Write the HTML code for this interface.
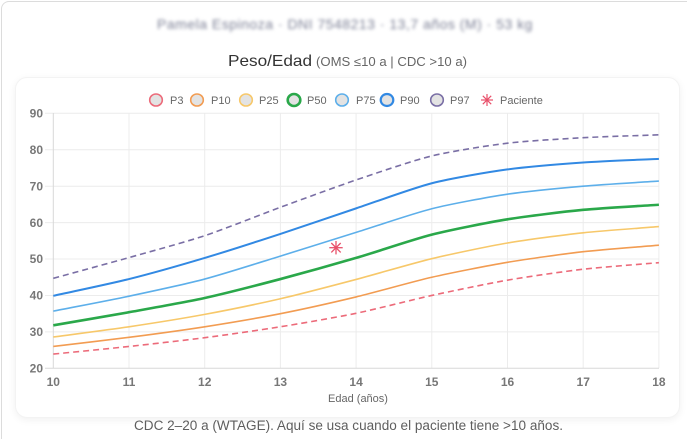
<!DOCTYPE html>
<html><head><meta charset="utf-8">
<style>
html,body{margin:0;padding:0;background:#fff;overflow:hidden;width:687px;height:439px;}
body{font-family:"Liberation Sans",Arial,sans-serif;}
#root{position:relative;width:687px;height:439px;overflow:hidden;background:#fff;}
.outer{position:absolute;left:1px;top:1px;width:686px;height:438px;border-top:1px solid #dcdcdc;border-left:1px solid #dcdcdc;border-top-left-radius:8px;box-sizing:border-box;}
.inner{position:absolute;left:15px;top:77px;width:665px;height:341px;border-radius:12px;border:1px solid #f3f3f3;box-shadow:0 2px 8px rgba(0,0,0,0.06);background:#fff;box-sizing:border-box;}
.hdr{position:absolute;left:150px;top:16px;width:390px;font-size:14px;color:#7d8196;filter:blur(1.6px);white-space:nowrap;text-align:center;letter-spacing:0.5px;}
svg{position:absolute;left:0;top:0;}
</style></head>
<body>
<div id="root">
<div class="outer"></div>
<div class="hdr">Pamela Espinoza · DNI 7548213 · 13,7 años (M) · 53 kg</div>
<div class="inner"></div>
<svg width="687" height="439" viewBox="0 0 687 439" xmlns="http://www.w3.org/2000/svg" font-family="Liberation Sans, Arial, sans-serif">
  <!-- Title -->
  <text x="228" y="66" font-size="16" fill="#333" textLength="84" lengthAdjust="spacingAndGlyphs">Peso/Edad</text>
  <text x="316" y="66" font-size="12.5" fill="#666" textLength="151" lengthAdjust="spacingAndGlyphs">(OMS ≤10 a | CDC &gt;10 a)</text>

  <!-- Legend -->
  <g stroke-width="1.6" fill="#e3e3e3">
    <ellipse cx="156" cy="100" rx="6.3" ry="6" stroke="#ec6b7a"/>
    <ellipse cx="197" cy="100" rx="6.3" ry="6" stroke="#f29c52"/>
    <ellipse cx="246" cy="100" rx="6.3" ry="6" stroke="#f7c86a"/>
    <ellipse cx="294" cy="100" rx="6.3" ry="6" stroke="#2aa84a" stroke-width="2.6"/>
    <ellipse cx="342" cy="100" rx="6.3" ry="6" stroke="#5dafea"/>
    <ellipse cx="387" cy="100" rx="6.3" ry="6" stroke="#3289e3" stroke-width="2.2"/>
    <ellipse cx="437" cy="100" rx="6.3" ry="6" stroke="#7a6fa5"/>
  </g>
  <g stroke="#e8506a" stroke-width="1.2">
    <line x1="487" y1="94" x2="487" y2="106"/>
    <line x1="481" y1="100" x2="493" y2="100"/>
    <line x1="482.8" y1="95.8" x2="491.2" y2="104.2"/>
    <line x1="482.8" y1="104.2" x2="491.2" y2="95.8"/>
  </g>
  <g font-size="11" fill="#666">
    <text x="170" y="104">P3</text>
    <text x="211" y="104">P10</text>
    <text x="259" y="104">P25</text>
    <text x="307" y="104">P50</text>
    <text x="356" y="104">P75</text>
    <text x="400" y="104">P90</text>
    <text x="450" y="104">P97</text>
    <text x="500" y="104">Paciente</text>
  </g>

  <!-- Grid -->
  <g stroke="#ececec" stroke-width="1">
    <line x1="45" y1="113.3" x2="659" y2="113.3"/>
    <line x1="45" y1="149.7" x2="659" y2="149.7"/>
    <line x1="45" y1="186.2" x2="659" y2="186.2"/>
    <line x1="45" y1="222.6" x2="659" y2="222.6"/>
    <line x1="45" y1="259.0" x2="659" y2="259.0"/>
    <line x1="45" y1="295.5" x2="659" y2="295.5"/>
    <line x1="45" y1="331.9" x2="659" y2="331.9"/>
    <line x1="129" y1="113" x2="129" y2="368"/>
    <line x1="204.7" y1="113" x2="204.7" y2="368"/>
    <line x1="280.4" y1="113" x2="280.4" y2="368"/>
    <line x1="356.1" y1="113" x2="356.1" y2="368"/>
    <line x1="431.8" y1="113" x2="431.8" y2="368"/>
    <line x1="507.5" y1="113" x2="507.5" y2="368"/>
    <line x1="583.2" y1="113" x2="583.2" y2="368"/>
    <line x1="658.9" y1="113" x2="658.9" y2="368"/>
  </g>
  <g stroke="#d8d8d8" stroke-width="1">
    <line x1="53.3" y1="113" x2="53.3" y2="368.3"/>
    <line x1="45" y1="368.3" x2="659" y2="368.3"/>
  </g>

  <!-- Y ticks -->
  <g font-size="12" fill="#777" font-weight="bold" text-anchor="end">
    <text x="43" y="117.5">90</text>
    <text x="43" y="153.9">80</text>
    <text x="43" y="190.4">70</text>
    <text x="43" y="226.8">60</text>
    <text x="43" y="263.2">50</text>
    <text x="43" y="299.7">40</text>
    <text x="43" y="336.1">30</text>
    <text x="43" y="372.5">20</text>
  </g>
  <!-- X ticks -->
  <g font-size="12" fill="#777" font-weight="bold" text-anchor="middle">
    <text x="53.3" y="386">10</text>
    <text x="129" y="386">11</text>
    <text x="204.7" y="386">12</text>
    <text x="280.4" y="386">13</text>
    <text x="356.1" y="386">14</text>
    <text x="431.8" y="386">15</text>
    <text x="507.5" y="386">16</text>
    <text x="583.2" y="386">17</text>
    <text x="658.9" y="386">18</text>
  </g>
  <text x="358" y="402" font-size="11" fill="#666" text-anchor="middle">Edad (años)</text>

  <!-- Series -->
  <g fill="none" stroke-linejoin="round" stroke-linecap="butt">
    <polyline class="sm" stroke="#ec6b7a" stroke-width="1.6" stroke-dasharray="6,4" points="53.3,354.10 129,346.45 204.7,337.71 280.4,326.78 356.1,313.30 431.8,295.45 507.5,280.15 583.2,269.22 658.9,262.66"/>
    <polyline class="sm" stroke="#f29c52" stroke-width="1.6" points="53.3,346.45 129,337.35 204.7,326.78 280.4,313.66 356.1,296.91 431.8,277.24 507.5,262.30 583.2,251.73 658.9,245.18"/>
    <polyline class="sm" stroke="#f7c86a" stroke-width="1.6" points="53.3,336.98 129,326.78 204.7,314.39 280.4,298.73 356.1,279.42 431.8,258.66 507.5,242.99 583.2,232.79 658.9,226.60"/>
    <polyline class="sm" stroke="#2aa84a" stroke-width="2.6" points="53.3,325.32 129,312.21 204.7,298.00 280.4,279.06 356.1,257.93 431.8,234.62 507.5,219.31 583.2,209.84 658.9,204.74"/>
    <polyline class="sm" stroke="#5dafea" stroke-width="1.6" points="53.3,311.12 129,296.18 204.7,279.06 280.4,256.10 356.1,232.42 431.8,208.74 507.5,194.17 583.2,186.16 658.9,181.06"/>
    <polyline class="sm" stroke="#3289e3" stroke-width="2" points="53.3,295.81 129,279.06 204.7,257.93 280.4,233.89 356.1,208.38 431.8,183.25 507.5,169.41 583.2,162.48 658.9,158.85"/>
    <polyline class="sm" stroke="#7a6fa5" stroke-width="1.6" stroke-dasharray="6,4" points="53.3,278.33 129,257.56 204.7,235.71 280.4,207.29 356.1,179.97 431.8,155.93 507.5,143.17 583.2,137.71 658.9,134.80"/>
  </g>

  <!-- Patient -->
  <g stroke="#e8506a" stroke-width="1.3">
    <line x1="336" y1="241" x2="336" y2="254.4"/>
    <line x1="329.3" y1="247.7" x2="342.7" y2="247.7"/>
    <line x1="331.3" y1="243" x2="340.7" y2="252.4"/>
    <line x1="331.3" y1="252.4" x2="340.7" y2="243"/>
  </g>

  <!-- Caption -->
  <text x="134" y="430" font-size="13.5" fill="#5e5e5e" textLength="429" lengthAdjust="spacingAndGlyphs">CDC 2–20 a (WTAGE). Aquí se usa cuando el paciente tiene &gt;10 años.</text>
</svg>
</div>
<script>
(function(){
  var NS="http://www.w3.org/2000/svg", t=0.25;
  var pls=document.querySelectorAll('polyline.sm');
  for(var k=0;k<pls.length;k++){
    var pl=pls[k];
    var pts=pl.getAttribute('points').trim().split(/\s+/).map(function(p){return p.split(',').map(Number);});
    var n=pts.length, cpP=[], cpN=[];
    for(var i=0;i<n;i++){
      var prev=pts[i-1]||pts[i], cur=pts[i], next=pts[i+1]||pts[i];
      var d01=Math.hypot(cur[0]-prev[0],cur[1]-prev[1]), d12=Math.hypot(next[0]-cur[0],next[1]-cur[1]);
      var s01=d01/(d01+d12), s12=d12/(d01+d12);
      if(isNaN(s01))s01=0; if(isNaN(s12))s12=0;
      var fa=t*s01, fb=t*s12;
      cpP.push([cur[0]-fa*(next[0]-prev[0]),cur[1]-fa*(next[1]-prev[1])]);
      cpN.push([cur[0]+fb*(next[0]-prev[0]),cur[1]+fb*(next[1]-prev[1])]);
    }
    var d='M'+pts[0][0]+','+pts[0][1];
    for(var j=1;j<n;j++){
      d+=' C'+cpN[j-1][0].toFixed(2)+','+cpN[j-1][1].toFixed(2)+' '+cpP[j][0].toFixed(2)+','+cpP[j][1].toFixed(2)+' '+pts[j][0]+','+pts[j][1];
    }
    var path=document.createElementNS(NS,'path');
    ['stroke','stroke-width','stroke-dasharray'].forEach(function(a){var v=pl.getAttribute(a); if(v)path.setAttribute(a,v);});
    path.setAttribute('d',d);
    pl.parentNode.replaceChild(path,pl);
  }
})();
</script>
</body></html>
